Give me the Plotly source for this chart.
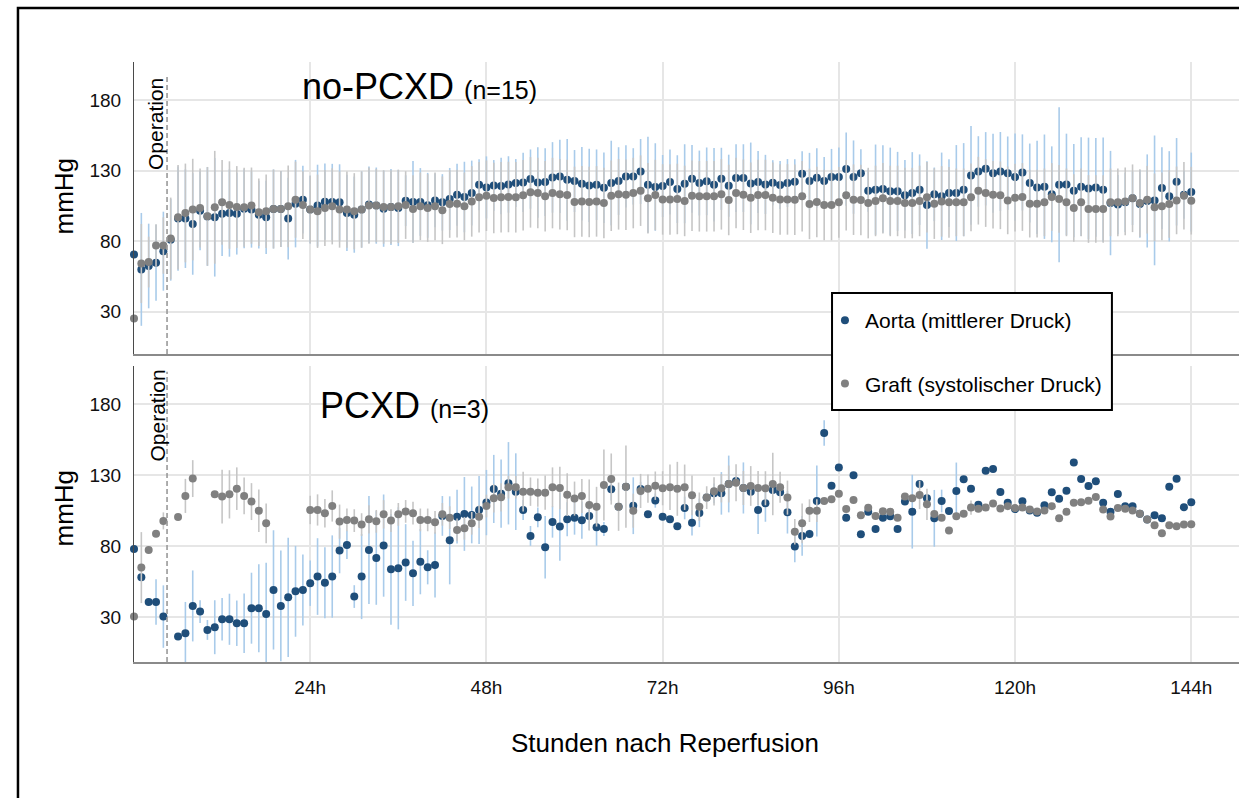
import plotly.graph_objects as go

# ---------------- data ----------------
HOURS = list(range(145))

TOP_AORTA = [70.6, 60.0, 62.4, 64.7, 72.9, 81.0, 96.0, 96.0, 92.2, 101.6,
             97.5, 96.9, 99.5, 100.0, 99.5, 103.0, 102.4, 98.8, 96.9, 102.8,
             102.8, 96.0, 106.6, 109.4, 102.4, 105.2, 108.0, 107.8, 107.5, 100.0,
             98.8, 102.4, 105.9, 105.2, 103.0, 104.2, 103.5, 108.7, 107.8, 107.8,
             105.4, 108.9, 107.5, 109.9, 112.9, 111.3, 114.1, 120.0, 118.1, 119.5,
             119.1, 120.2, 121.2, 121.6, 124.0, 121.6, 121.9, 125.2, 125.9, 123.5,
             122.6, 120.7, 119.5, 120.0, 117.9, 121.2, 122.6, 125.9, 125.9, 129.4,
             120.0, 118.4, 119.1, 121.9, 116.9, 120.7, 124.2, 121.2, 122.4, 120.0,
             124.2, 119.3, 124.7, 124.7, 120.9, 121.9, 120.2, 121.4, 119.8, 121.2,
             122.1, 127.8, 122.6, 124.9, 122.6, 125.4, 125.4, 131.1, 125.4, 128.2,
             115.8, 116.5, 116.9, 115.3, 115.3, 112.5, 114.1, 116.5, 105.6, 113.2,
             111.8, 114.1, 114.1, 116.5, 126.6, 129.4, 131.3, 128.2, 129.4, 128.2,
             125.4, 128.7, 121.2, 118.1, 118.6, 113.2, 120.0, 120.2, 115.8, 118.6,
             117.4, 118.1, 116.5, 107.0, 105.9, 107.5, 110.4, 106.4, 108.5, 108.9,
             117.6, 111.8, 122.1, 112.9, 114.8]

TOP_AORTA_ERR = [0, 40, 30, 27, 28, 29, 37, 35, 36, 28,
                 35, 42, 30, 31, 29, 28, 27, 24, 26, 28,
                 27, 29, 31, 24, 24, 29, 27, 27, 27, 27,
                 27, 27, 27, 27, 27, 27, 27, 18, 29, 24,
                 23, 19, 20, 22, 22, 25, 23, 18, 22, 18,
                 20, 20, 17, 21, 21, 25, 24, 25, 26, 29,
                 22, 26, 26, 25, 25, 30, 24, 22, 20, 23,
                 34, 31, 22, 23, 24, 28, 24, 23, 24, 26,
                 22, 22, 24, 24, 29, 22, 21, 16, 17, 17,
                 16, 16, 20, 21, 17, 20, 21, 26, 26, 17,
                 15, 32, 31, 31, 28, 25, 29, 25, 31, 19,
                 31, 24, 34, 33, 35, 25, 26, 28, 28, 26,
                 31, 27, 28, 33, 37, 34, 55, 36, 33, 35,
                 36, 35, 37, 37, 21, 21, 19, 24, 33, 46,
                 29, 32, 31, 17, 28]

TOP_GRAFT = [25.2, 64.2, 65.2, 76.9, 76.9, 81.9, 96.9, 100.0, 102.4, 103.5,
             97.6, 104.0, 107.5, 105.6, 104.2, 104.0, 105.2, 100.5, 101.2, 102.8,
             102.8, 104.7, 109.4, 105.6, 102.4, 101.2, 103.5, 104.7, 102.4, 102.4,
             101.2, 102.4, 105.2, 105.2, 104.2, 104.2, 104.7, 105.6, 102.8, 104.7,
             103.5, 104.7, 101.9, 106.4, 106.6, 104.7, 108.2, 111.1, 112.2, 110.6,
             111.1, 111.3, 111.1, 112.5, 114.6, 114.1, 111.8, 114.1, 113.2, 112.7,
             107.8, 108.2, 107.8, 108.2, 107.0, 112.2, 113.2, 112.9, 114.1, 115.8,
             110.4, 112.7, 109.6, 109.6, 109.9, 108.5, 112.2, 111.8, 111.8, 111.8,
             113.2, 109.2, 114.1, 112.9, 110.8, 112.7, 112.7, 110.8, 109.6, 109.6,
             109.4, 111.8, 106.4, 107.8, 105.6, 105.6, 107.5, 112.5, 109.4, 109.2,
             107.0, 108.5, 110.4, 108.5, 108.5, 107.0, 107.0, 108.5, 111.1, 106.6,
             108.2, 107.5, 107.5, 107.5, 111.1, 115.8, 114.1, 112.9, 112.5, 108.9,
             110.8, 111.3, 106.6, 106.6, 107.5, 111.3, 109.9, 107.5, 103.5, 107.5,
             102.8, 102.8, 102.8, 107.5, 107.5, 108.2, 110.4, 107.0, 109.4, 104.0,
             104.7, 106.4, 108.9, 112.2, 108.7]

TOP_GRAFT_ERR = [0, 28, 18, 15, 20, 29, 37, 35, 36, 28,
                 35, 40, 30, 31, 29, 28, 27, 24, 26, 28,
                 27, 29, 27, 24, 24, 26, 27, 27, 27, 27,
                 27, 27, 27, 26, 26, 26, 26, 24, 24, 24,
                 24, 24, 24, 24, 24, 24, 25, 25, 25, 25,
                 25, 25, 25, 25, 25, 25, 25, 25, 25, 25,
                 25, 25, 25, 25, 25, 25, 25, 25, 25, 25,
                 25, 25, 25, 25, 25, 25, 25, 25, 25, 25,
                 25, 25, 25, 25, 25, 25, 25, 25, 25, 25,
                 25, 25, 25, 25, 25, 25, 25, 25, 25, 25,
                 25, 25, 25, 25, 25, 25, 25, 25, 25, 25,
                 25, 25, 24, 24, 24, 24, 24, 24, 24, 24,
                 24, 24, 24, 24, 24, 24, 24, 24, 24, 24,
                 24, 24, 24, 24, 24, 24, 24, 24, 24, 24,
                 24, 24, 24, 24, 24]

BOT_AORTA = [78.1, 58.2, 40.8, 40.8, 30.5, None, 16.4, 18.8, 38.0, 34.0,
             21.1, 23.0, 28.6, 28.6, 25.8, 25.8, 36.4, 36.4, 32.4, 49.3,
             38.0, 44.1, 48.3, 49.3, 54.0, 58.7, 54.4, 58.7, 77.0, 81.0,
             44.6, 58.7, 77.4, 71.8, 80.5, 63.8, 64.5, 68.6, 61.0, 69.2,
             65.2, 66.9, 101.4, 84.2, 100.9, 102.8, 102.1, 105.6, 110.8, 120.4,
             117.1, 124.4, 118.5, 105.6, 87.3, 100.4, 79.3, 97.1, 93.9, 99.0,
             100.2, 98.3, 101.4, 93.4, 92.2, 120.2, 107.9, 122.0, 108.6, 120.4,
             102.5, 112.2, 100.9, 99.0, 94.1, 107.0, 96.6, 103.5, 114.3, 117.3,
             117.3, 123.9, 126.0, 121.1, 118.5, 105.6, 110.3, 119.7, 118.0, 104.0,
             79.8, 87.3, 88.7, 111.9, 159.8, 122.7, 135.6, 100.2, 130.0, 88.5,
             104.4, 92.2, 100.2, 101.1, 92.2, 111.5, 104.4, 123.9, 113.8, 99.7,
             111.9, 104.9, 119.0, 127.2, 120.6, 109.2, 133.3, 134.5, 118.2, 110.6,
             106.2, 111.8, 105.2, 103.6, 109.0, 118.0, 113.5, 119.1, 139.0, 127.4,
             122.4, 125.8, 110.6, 104.3, 116.8, 108.3, 108.3, 102.9, 98.8, 101.9,
             99.8, 122.0, 127.6, 107.6, 111.1]

BOT_AORTA_ERR = [0, 0, 0, 16, 22, 0, 0, 22, 25, 8,
                 7, 19, 15, 18, 16, 21, 25, 31, 36, 42,
                 39, 42, 32, 25, 16, 27, 25, 29, 16, 10,
                 8, 30, 38, 33, 36, 39, 43, 27, 23, 23,
                 12, 23, 14, 31, 19, 26, 20, 24, 23, 24,
                 24, 29, 27, 7, 7, 7, 22, 11, 24, 12,
                 12, 13, 10, 13, 5, 8, 0, 0, 20, 5,
                 0, 5, 0, 0, 0, 8, 9, 10, 0, 7,
                 15, 20, 0, 18, 0, 17, 13, 0, 0, 15,
                 11, 14, 3, 25, 9, 0, 0, 0, 0, 0,
                 0, 0, 0, 0, 0, 0, 26, 0, 0, 20,
                 8, 0, 20, 0, 0, 0, 0, 0, 0, 0,
                 0, 0, 0, 0, 0, 0, 0, 0, 0, 0,
                 0, 0, 0, 0, 0, 0, 0, 0, 0, 0,
                 0, 0, 0, 0, 0]

BOT_GRAFT = [30.5, 65.0, 77.4, 88.9, 97.9, None, 100.7, 115.5, 127.7, None,
             None, 116.6, 115.0, 116.6, 120.6, 115.5, 111.5, 105.1, 96.2, None,
             None, None, None, None, 105.6, 105.6, 103.3, 108.4, 97.4, 98.6,
             98.1, 95.3, 99.0, 97.6, 102.5, 98.1, 102.5, 104.6, 103.3, 98.6,
             98.6, 96.9, 102.5, 100.2, 91.5, 92.7, 96.2, 100.9, 108.4, 113.8,
             114.5, 121.6, 121.6, 118.5, 118.5, 117.8, 117.8, 121.6, 121.1, 116.4,
             113.6, 115.5, 109.1, 107.9, 123.2, 127.4, 107.9, 122.0, 105.1, 119.0,
             120.6, 122.7, 120.9, 121.6, 120.5, 121.6, 115.9, 107.9, 114.3, 118.7,
             120.9, 123.9, 124.8, 121.1, 122.5, 121.1, 120.9, 123.9, 121.6, 114.3,
             90.3, 96.2, 105.1, 105.1, 111.9, 113.1, 117.1, 106.3, 112.6, 101.8,
             107.2, 101.4, 104.7, 104.4, 100.2, 115.0, 113.8, 116.2, 109.6, 102.8,
             100.2, 91.2, 101.2, 102.9, 107.3, 106.4, 107.3, 110.2, 106.6, 108.3,
             106.9, 107.3, 105.9, 104.6, 105.2, 108.3, 99.8, 104.3, 110.6, 111.1,
             112.1, 114.7, 105.9, 101.0, 106.9, 106.4, 105.2, 102.9, 98.8, 94.8,
             89.2, 94.8, 94.1, 95.3, 95.5]

BOT_GRAFT_ERR = [0, 25, 0, 0, 6, 0, 0, 12, 13, 0,
                 0, 0, 19, 17, 15, 13, 13, 15, 14, 0,
                 0, 0, 0, 0, 10, 11, 10, 11, 12, 8,
                 8, 8, 10, 8, 10, 8, 8, 8, 8, 8,
                 8, 8, 8, 8, 8, 8, 8, 8, 8, 10,
                 10, 8, 8, 14, 10, 10, 12, 14, 15, 15,
                 12, 12, 18, 14, 25, 18, 17, 29, 12, 12,
                 10, 10, 12, 16, 19, 16, 14, 10, 8, 10,
                 10, 13, 13, 12, 14, 12, 12, 22, 11, 12,
                 9, 14, 8, 8, 0, 0, 0, 0, 0, 0,
                 0, 0, 0, 0, 0, 0, 0, 10, 11, 0,
                 0, 0, 0, 0, 5, 0, 0, 0, 0, 0,
                 0, 0, 0, 0, 0, 0, 0, 0, 0, 0,
                 0, 0, 0, 0, 0, 0, 0, 0, 0, 0,
                 0, 0, 0, 0, 0]

X_TICKS = [24, 48, 72, 96, 120, 144]
X_TICK_TEXT = ["24h", "48h", "72h", "96h", "120h", "144h"]
Y_TICKS = [30, 80, 130, 180]
OPERATION_HOUR = 4.5

SERIES_NAMES = ["Aorta (mittlerer Druck)", "Graft (systolischer Druck)"]

# ---------------- style ----------------
FONT = "Liberation Sans, Arial, sans-serif"
BLUE = "#1f4e7a"
BLUE_ERR = "#a9cbea"
GREY = "#808080"
GREY_ERR = "#c6c6c6"
GRID = "#e6e6e6"

fig = go.Figure()


def add_pair(aorta, aorta_err, graft, graft_err, xa, ya, show):
    fig.add_trace(go.Scatter(
        x=HOURS, y=aorta, mode="markers", name=SERIES_NAMES[0],
        legendgroup="a", showlegend=show, xaxis=xa, yaxis=ya, cliponaxis=False,
        marker=dict(color=BLUE, size=8, line=dict(width=0)),
        error_y=dict(type="data", array=aorta_err, color=BLUE_ERR, thickness=1.6, width=0),
    ))
    fig.add_trace(go.Scatter(
        x=HOURS, y=graft, mode="markers", name=SERIES_NAMES[1],
        legendgroup="g", showlegend=show, xaxis=xa, yaxis=ya, cliponaxis=False,
        marker=dict(color=GREY, size=8, line=dict(width=0)),
        error_y=dict(type="data", array=graft_err, color=GREY_ERR, thickness=1.6, width=0),
    ))


add_pair(TOP_AORTA, TOP_AORTA_ERR, TOP_GRAFT, TOP_GRAFT_ERR, "x", "y", True)
add_pair(BOT_AORTA, BOT_AORTA_ERR, BOT_GRAFT, BOT_GRAFT_ERR, "x2", "y2", False)

xcommon = dict(range=[0, 150.5], tickvals=X_TICKS, showgrid=True, gridcolor=GRID,
               gridwidth=1.5, zeroline=False, showline=True, linecolor="#8a8a8a",
               linewidth=2, ticks="", fixedrange=True)
ycommon = dict(tickvals=Y_TICKS, showgrid=True, gridcolor=GRID, gridwidth=2,
               zeroline=False, showline=True, linecolor="#4a4a4a", linewidth=1,
               ticks="", ticklabelstandoff=8,
               tickfont=dict(family=FONT, size=19, color="#111"))

fig.update_layout(
    width=1239, height=798,
    margin=dict(l=134, r=0, t=62, b=136),
    paper_bgcolor="white", plot_bgcolor="white",
    font=dict(family=FONT, color="black"),
    xaxis=dict(domain=[0, 1], anchor="y", showticklabels=False, **xcommon),
    yaxis=dict(domain=[0.5133, 1], anchor="x", range=[0, 207], **ycommon),
    xaxis2=dict(domain=[0, 1], anchor="y2", ticktext=X_TICK_TEXT, showticklabels=True,
                ticklabelstandoff=7, tickfont=dict(family=FONT, size=19, color="#111"),
                **xcommon),
    yaxis2=dict(domain=[0, 0.4933], anchor="x2", range=[-1.5, 207], **ycommon),
    legend=dict(x=0.6253, y=0.6033, xanchor="left", yanchor="top",
                bgcolor="rgba(0,0,0,0)", borderwidth=0,
                font=dict(family=FONT, size=21, color="black"),
                traceorder="grouped", tracegroupgap=33),
    showlegend=True,
)

# legend frame
fig.add_shape(type="rect", xref="paper", yref="paper", x0=0.6317, x1=0.885, y0=0.42, y1=0.615,
              fillcolor="white", line=dict(color="black", width=2), layer="above")

# operation markers
fig.add_shape(type="line", xref="x", yref="y", x0=OPERATION_HOUR, x1=OPERATION_HOUR,
              y0=0, y1=198, line=dict(color="#9a9a9a", width=1.6, dash="5px,3px"))
fig.add_shape(type="line", xref="x2", yref="y2", x0=OPERATION_HOUR, x1=OPERATION_HOUR,
              y0=-1.5, y1=203, line=dict(color="#9a9a9a", width=1.6, dash="5px,3px"))

# outer frame
fig.add_shape(type="rect", xref="paper", yref="paper", x0=-0.105, x1=1.5, y0=-1.0, y1=1.09,
              line=dict(color="black", width=2.5), layer="above")

ann = [
    dict(text="no-PCXD <span style='font-size:25px'>(n=15)</span>", x=0.1502, y=0.96,
         xanchor="left", yanchor="middle", font=dict(size=36)),
    dict(text="PCXD <span style='font-size:25px'>(n=3)</span>", x=0.1665, y=0.428,
         xanchor="left", yanchor="middle", font=dict(size=36)),
    dict(text="mmHg", x=-0.0638, y=0.7767, textangle=-90, font=dict(size=26)),
    dict(text="mmHg", x=-0.0638, y=0.2567, textangle=-90, font=dict(size=26)),
    dict(text="Operation", x=0.0199, y=0.8967, textangle=-90, font=dict(size=21)),
    dict(text="Operation", x=0.0204, y=0.41, textangle=-90, font=dict(size=21)),
    dict(text="Stunden nach Reperfusion", x=0.4805, y=-0.135, font=dict(size=26)),
]
for a in ann:
    a.update(xref="paper", yref="paper", showarrow=False)
    a.setdefault("xanchor", "center")
    a.setdefault("yanchor", "middle")
    a["font"] = dict(family=FONT, color="black", **a["font"])
    fig.add_annotation(**a)

# remove the default page margin so the 1239x798 figure fills the window exactly
fig.write_html("out.html",
               config={"displayModeBar": False},
               post_script="document.body.style.margin='0';"
                           "document.body.style.overflow='hidden';")
